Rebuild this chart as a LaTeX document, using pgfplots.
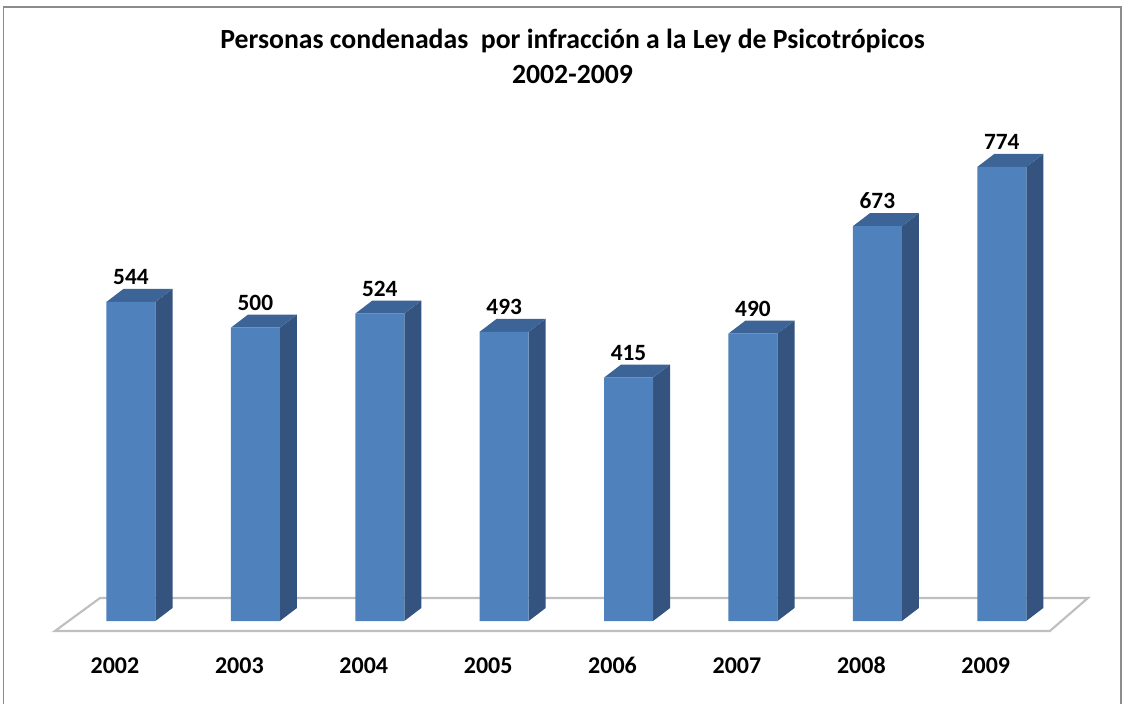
\documentclass[border=0pt]{standalone}
\usepackage{fontspec}
\setmainfont{Carlito}
\usepackage{pgfplots}
\pgfplotsset{compat=1.18}
\definecolor{frontc}{HTML}{4F81BD}
\definecolor{sidec}{HTML}{34547F}
\definecolor{topc}{HTML}{3D6496}
\definecolor{floorc}{HTML}{BFBFBF}
\definecolor{framec}{HTML}{8C8C8C}
\begin{document}
\begin{tikzpicture}
\begin{axis}[
  scale only axis,
  width=846.75pt, height=528pt,
  xmin=-1.053, xmax=8.023,
  ymin=-141.5, ymax=1058.6,
  axis line style={draw=none},
  tick style={draw=none},
  ytick=\empty,
  xtick={0,1,2,3,4,5,6,7},
  xticklabels={2002,2003,2004,2005,2006,2007,2008,2009},
  xticklabel style={font=\fontsize{18}{20}\selectfont\bfseries, anchor=base, yshift=23.25pt, xshift=-12pt},
  /pgf/number format/assume math mode=true,
  clip=false,
]
% frame
\draw[framec, line width=0.8pt] (rel axis cs:0.0035,0) -- (rel axis cs:0.0035,0.990) -- (rel axis cs:0.9929,0.990) -- (rel axis cs:0.9929,0);
% floor
\addplot[draw=floorc, line width=1.6pt, fill=white] coordinates {(-0.611,-17) (-0.249,39.2) (7.693,39.2) (7.387,-17)} --cycle;
% side faces
\addplot[fill=sidec, draw=none] coordinates {(0.197,0) (0.334,22.2) (0.334,566.2) (0.197,544)} --cycle;
\addplot[fill=sidec, draw=none] coordinates {(1.197,0) (1.334,22.2) (1.334,522.2) (1.197,500)} --cycle;
\addplot[fill=sidec, draw=none] coordinates {(2.197,0) (2.334,22.2) (2.334,546.2) (2.197,524)} --cycle;
\addplot[fill=sidec, draw=none] coordinates {(3.197,0) (3.334,22.2) (3.334,515.2) (3.197,493)} --cycle;
\addplot[fill=sidec, draw=none] coordinates {(4.197,0) (4.334,22.2) (4.334,437.2) (4.197,415)} --cycle;
\addplot[fill=sidec, draw=none] coordinates {(5.197,0) (5.334,22.2) (5.334,512.2) (5.197,490)} --cycle;
\addplot[fill=sidec, draw=none] coordinates {(6.197,0) (6.334,22.2) (6.334,695.2) (6.197,673)} --cycle;
\addplot[fill=sidec, draw=none] coordinates {(7.197,0) (7.334,22.2) (7.334,796.2) (7.197,774)} --cycle;
% top faces
\addplot[fill=topc, draw=none] coordinates {(-0.197,544) (-0.060,566.2) (0.334,566.2) (0.197,544)} --cycle;
\addplot[fill=topc, draw=none] coordinates {(0.803,500) (0.940,522.2) (1.334,522.2) (1.197,500)} --cycle;
\addplot[fill=topc, draw=none] coordinates {(1.803,524) (1.940,546.2) (2.334,546.2) (2.197,524)} --cycle;
\addplot[fill=topc, draw=none] coordinates {(2.803,493) (2.940,515.2) (3.334,515.2) (3.197,493)} --cycle;
\addplot[fill=topc, draw=none] coordinates {(3.803,415) (3.940,437.2) (4.334,437.2) (4.197,415)} --cycle;
\addplot[fill=topc, draw=none] coordinates {(4.803,490) (4.940,512.2) (5.334,512.2) (5.197,490)} --cycle;
\addplot[fill=topc, draw=none] coordinates {(5.803,673) (5.940,695.2) (6.334,695.2) (6.197,673)} --cycle;
\addplot[fill=topc, draw=none] coordinates {(6.803,774) (6.940,796.2) (7.334,796.2) (7.197,774)} --cycle;
% front faces
\addplot[ybar, bar width=0.394, fill=frontc, draw=none,
  nodes near coords,
  every node near coord/.append style={font=\fontsize{17.5}{20}\selectfont\bfseries, text=black, anchor=south, inner sep=0pt, yshift=12.75pt}]
  coordinates {(0,544) (1,500) (2,524) (3,493) (4,415) (5,490) (6,673) (7,774)};
% title
\node[font=\fontsize{20.8}{24}\selectfont\bfseries, anchor=base] at (rel axis cs:0.5071,0.9304) {Personas condenadas\ \ por infracción a la Ley de Psicotrópicos};
\node[font=\fontsize{20.8}{24}\selectfont\bfseries, anchor=base] at (rel axis cs:0.5071,0.8821) {2002-2009};
\coordinate (SW) at (rel axis cs:0,0);
\coordinate (NE) at (rel axis cs:1,1);
\end{axis}
\pgfresetboundingbox
\path[use as bounding box] (SW) rectangle (NE);
\end{tikzpicture}
\end{document}
